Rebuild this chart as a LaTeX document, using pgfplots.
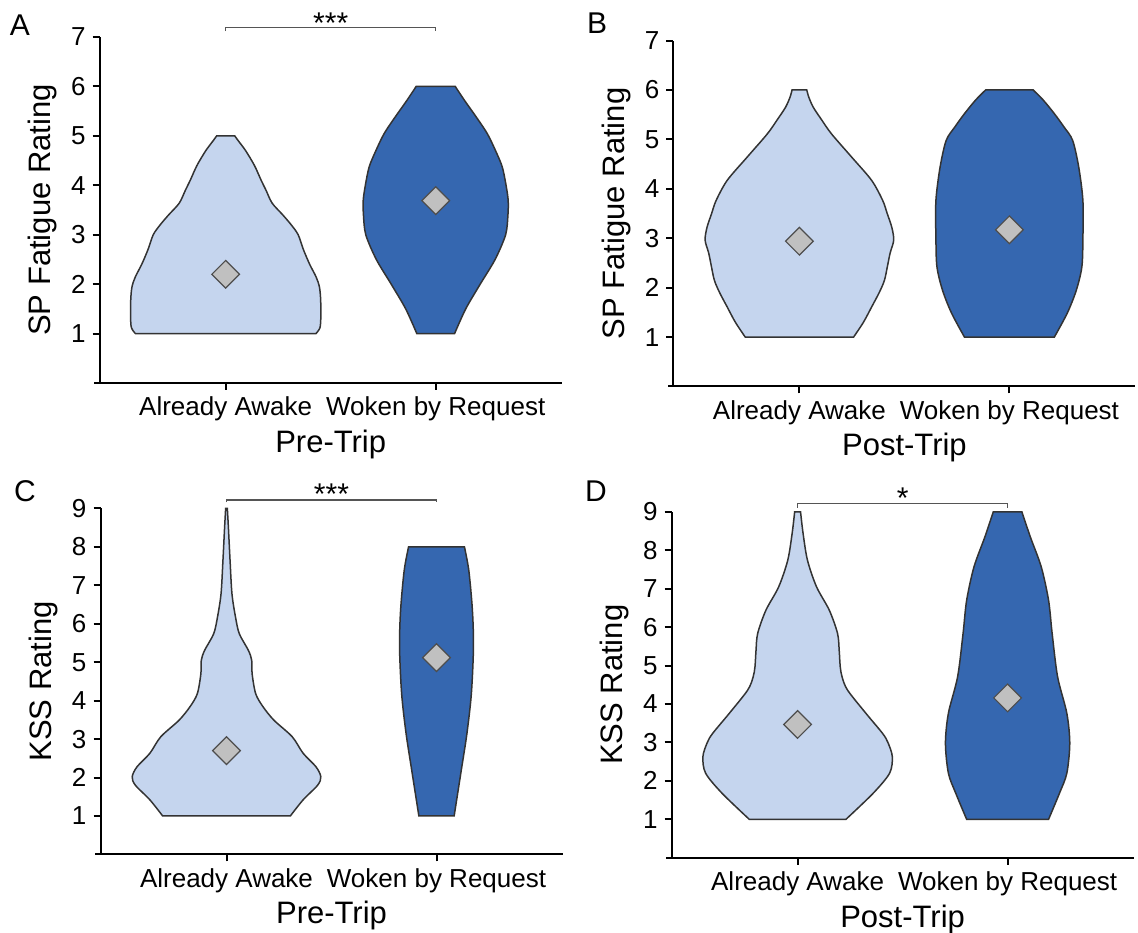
\documentclass[border=0pt]{standalone}
\usepackage{fontspec}
\setmainfont{Liberation Sans}
\usepackage{pgfplots}
\pgfplotsset{compat=1.18}
\usepackage{pgfplotstable}
\usepgfplotslibrary{fillbetween}

\definecolor{lightv}{HTML}{C5D5EE}
\definecolor{darkv}{HTML}{3567B0}
\definecolor{edge}{HTML}{333333}
\definecolor{dia}{HTML}{C0C0C0}
\definecolor{diaedge}{HTML}{4D4D4D}
\definecolor{brk}{HTML}{555555}

% violin outlines: y, half-width (category units)
\pgfplotstableread{
y hw
1.00 0.430
1.12 0.449
1.35 0.453
1.70 0.452
1.95 0.446
2.15 0.430
2.40 0.400
2.70 0.370
3.00 0.345
3.20 0.312
3.40 0.272
3.64 0.221
3.90 0.192
4.10 0.169
4.40 0.137
4.70 0.095
4.90 0.060
5.00 0.043
}\AAwake
\pgfplotstableread{
y hw
1.00 0.090
1.50 0.143
2.00 0.212
2.50 0.283
3.00 0.333
3.40 0.344
3.70 0.345
4.00 0.335
4.37 0.317
4.70 0.285
5.05 0.245
5.40 0.190
5.70 0.140
6.00 0.093
}\AWoken
\pgfplotstableread{
y hw
1.00 0.258
1.30 0.305
1.61 0.344
1.90 0.380
2.15 0.405
2.45 0.420
2.70 0.432
2.96 0.449
3.22 0.440
3.50 0.418
3.76 0.397
4.17 0.344
4.64 0.249
5.11 0.153
5.40 0.105
5.65 0.066
5.85 0.045
6.00 0.035
}\BAwake
\pgfplotstableread{
y hw
1.00 0.214
1.48 0.275
1.94 0.318
2.42 0.345
3.00 0.350
3.76 0.350
4.44 0.330
4.98 0.301
5.25 0.260
5.52 0.214
5.80 0.160
6.00 0.113
}\BWoken
\pgfplotstableread{
y hw
1.00 0.304
1.42 0.365
1.80 0.434
2.02 0.449
2.28 0.426
2.63 0.365
3.06 0.313
3.49 0.226
3.84 0.174
4.18 0.139
4.70 0.122
5.05 0.120
5.31 0.104
5.74 0.061
6.17 0.043
6.78 0.026
7.64 0.017
8.51 0.009
9.00 0.004
}\CAwake
\pgfplotstableread{
y hw
1.00 0.084
2.19 0.118
3.15 0.145
4.18 0.166
5.39 0.176
6.35 0.171
7.38 0.154
8.00 0.133
}\CWoken
\pgfplotstableread{
y hw
1.00 0.230
1.68 0.360
2.20 0.438
2.63 0.451
3.00 0.430
3.24 0.404
3.76 0.325
4.36 0.238
4.70 0.212
4.97 0.203
5.40 0.198
5.84 0.190
6.44 0.151
7.05 0.090
7.74 0.047
8.44 0.026
9.00 0.014
}\DAwake
\pgfplotstableread{
y hw
1.00 0.195
1.68 0.247
2.20 0.282
2.98 0.296
3.76 0.282
4.71 0.238
5.84 0.212
6.70 0.195
7.57 0.160
8.35 0.108
9.00 0.068
}\DWoken

\pgfplotsset{
 panel/.style={
  scale only axis, width=231pt, height=173pt,
  xmin=-0.6, xmax=1.6, ymin=0,
  axis x line=bottom, axis y line=left,
  axis line style={-, line width=1pt, black},
  x axis line style={shorten <=-2.7pt},
  xtick={0,1}, xticklabels={Already Awake, Woken by Request},
  tick align=outside, major tick length=3.5pt,
  tick style={line width=1pt, black},
  ticklabel style={font=\fontsize{13}{15}\selectfont},
  /pgf/number format/assume math mode=true,
  label style={font=\fontsize{15.5}{18}\selectfont},
  clip=false,
  ylabel style={at={(axis description cs:-0.123,0.5)}, anchor=center},
  xlabel style={at={(axis description cs:0.5,-0.2)}, anchor=base},
 },
 meanmark/.style={only marks, mark=square*, mark size=4.9pt,
   mark options={rotate=45, fill=dia, draw=diaedge, line width=0.6pt}},
}
\newcommand{\violin}[3]{%
 \addplot[draw=none, smooth, tension=0.5, name path=R#2] table[x expr=#2+\thisrow{hw}, y=y]{#1};
 \addplot[draw=none, smooth, tension=0.5, name path=L#2] table[x expr=#2-\thisrow{hw}, y=y]{#1};
 \addplot[fill=#3, draw=edge, line width=0.75pt] fill between[of=R#2 and L#2, reverse=true];
}
\tikzset{bracket/.style={draw=brk, line width=0.6pt},
 stars/.style={font=\fontsize{15}{17}\selectfont, anchor=base, inner sep=0pt},
 letter/.style={font=\fontsize{15}{18}\selectfont, inner sep=0pt}}

\begin{document}
\begin{tikzpicture}

% A
\begin{axis}[panel, at={(49.85pt,274.5pt)}, anchor=south west,
  ymax=7, ytick={1,...,7}, ylabel={SP Fatigue Rating}, xlabel={Pre-Trip}]
\violin{\AAwake}{0}{lightv}
\violin{\AWoken}{1}{darkv}
\addplot[meanmark] coordinates {(0,2.20) (1,3.69)};
\draw[bracket] (axis cs:0,7.12) -- (axis cs:0,7.19) -- (axis cs:1,7.19) -- (axis cs:1,7.12);
\node[stars] at (axis cs:0.5,7.08) {***};
\end{axis}

% B
\begin{axis}[panel, at={(336.7pt,272.75pt)}, anchor=south west,
  ymax=7, ytick={1,...,7}, ylabel={SP Fatigue Rating}, xlabel={Post-Trip}]
\violin{\BAwake}{0}{lightv}
\violin{\BWoken}{1}{darkv}
\addplot[meanmark] coordinates {(0,2.94) (1,3.17)};
\end{axis}

% C
\begin{axis}[panel, at={(50.25pt,38.8pt)}, anchor=south west,
  ymax=9, ytick={1,...,9}, ylabel={KSS Rating}, xlabel={Pre-Trip}]
\violin{\CAwake}{0}{lightv}
\violin{\CWoken}{1}{darkv}
\addplot[meanmark] coordinates {(0,2.70) (1,5.12)};
\draw[bracket] (axis cs:0,9.16) -- (axis cs:0,9.22) -- (axis cs:1,9.22) -- (axis cs:1,9.16);
\node[stars] at (axis cs:0.5,9.10) {***};
\end{axis}

% D
\begin{axis}[panel, at={(335.8pt,37.1pt)}, anchor=south west,
  ymax=9, ytick={1,...,9}, ylabel={KSS Rating}, xlabel={Post-Trip}]
\violin{\DAwake}{0}{lightv}
\violin{\DWoken}{1}{darkv}
\addplot[meanmark] coordinates {(0,3.47) (1,4.16)};
\draw[bracket] (axis cs:0,9.11) -- (axis cs:0,9.22) -- (axis cs:1,9.22) -- (axis cs:1,9.11);
\node[stars] at (axis cs:0.5,9.08) {*};
\end{axis}

\node[letter] at (10pt,453.5pt) {A};
\node[letter] at (298.5pt,454.5pt) {B};
\node[letter] at (12.5pt,220.5pt) {C};
\node[letter] at (298pt,220.5pt) {D};

\pgfresetboundingbox
\path[use as bounding box] (0,0) rectangle (569pt,466pt);
\end{tikzpicture}
\end{document}
